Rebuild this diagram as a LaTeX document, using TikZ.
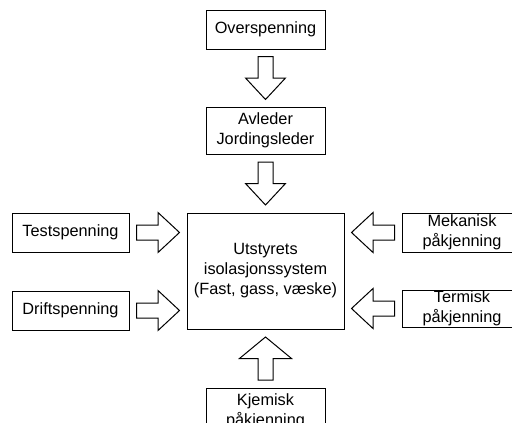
\documentclass[tikz,border=0pt]{standalone}
\usepackage{fontspec}
\setmainfont{Liberation Sans}
\usetikzlibrary{calc}

\tikzset{
  box/.style={draw, line width=1pt, inner sep=0pt, align=center,
    font=\fontsize{16.3}{20}\selectfont},
  pics/fatarrow/.style={code={
    \draw[line width=1pt, fill=white] (-21.5,-7.5) -- (0,-7.5) -- (0,-#1) -- (21.5,0)
      -- (0,#1) -- (0,7.5) -- (-21.5,7.5) -- cycle;
  }},
  pics/fatarrow/.default=20
}

\begin{document}
\begin{tikzpicture}[x=1pt,y=-1pt]
  \useasboundingbox (0,0) rectangle (512,423);
  \clip (0,0) rectangle (512,423);

  % boxes
  \node[box, minimum width=119pt, minimum height=39pt] (over) at (265.5,29.5) {Overspenning};
  \node[box, minimum width=119pt, minimum height=47pt] (avl) at (265.5,130.5) {Avleder\\Jordingsleder};
  \node[box, minimum width=157pt, minimum height=116pt] (sys) at (265.5,271) {Utstyrets\\isolasjonssystem\\(Fast, gass, væske)};
  \node[box, minimum width=117pt, minimum height=39pt] (test) at (70.5,232.5) {Testspenning};
  \node[box, minimum width=117pt, minimum height=39pt] (drift) at (70.5,310.5) {Driftspenning};
  \node[box, minimum width=120pt, minimum height=39pt] (mek) at (462,232.5) {Mekanisk\\påkjenning};
  \node[box, minimum width=120pt, minimum height=37pt] (term) at (462,308.5) {Termisk\\påkjenning};
  \node[box, minimum width=119pt, minimum height=47pt] (kjem) at (265.5,411.5) {Kjemisk\\påkjenning};

  % arrows
  \pic[rotate=-90] at ($(over.south)!0.5!(avl.north)$) {fatarrow};
  \pic[rotate=-90] at ($(avl.south)!0.5!(sys.north)$) {fatarrow};
  \pic at ($(test.east)!0.5!(test.east -| sys.west)$) {fatarrow};
  \pic at ($(drift.east)!0.5!(drift.east -| sys.west)$) {fatarrow};
  \pic[rotate=180] at ($(mek.west)!0.5!(mek.west -| sys.east)$) {fatarrow};
  \pic[rotate=180] at ($(term.west)!0.5!(term.west -| sys.east)$) {fatarrow};
  \pic[rotate=90] at ($(kjem.north)!0.5!(sys.south)$) {fatarrow=26};
\end{tikzpicture}
\end{document}
